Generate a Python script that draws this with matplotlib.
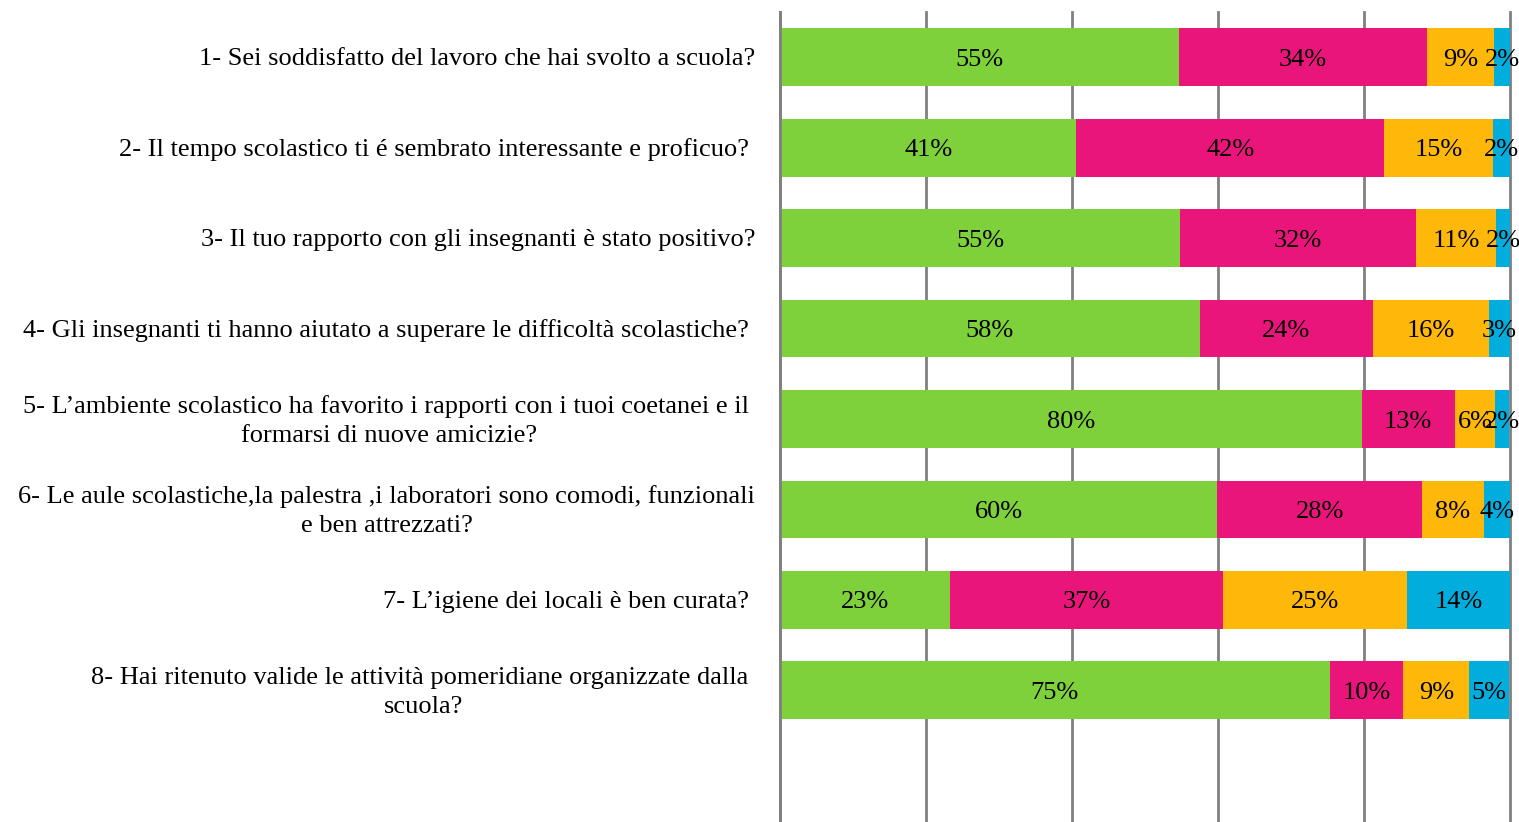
import numpy as np
import matplotlib.pyplot as plt

plt.rcParams['font.family'] = ['Liberation Serif', 'DejaVu Serif']

# domande del questionario (dall'alto verso il basso)
domande = [
    "1- Sei soddisfatto del lavoro che hai svolto a scuola?",
    "2- Il tempo scolastico ti é sembrato interessante e proficuo? ",
    "3- Il tuo rapporto con gli insegnanti è stato positivo?",
    "4- Gli insegnanti ti hanno aiutato a superare le difficoltà scolastiche? ",
    "5- L\u2019ambiente scolastico ha favorito i rapporti con i tuoi coetanei e il \nformarsi di nuove amicizie?",
    "6- Le aule scolastiche,la palestra ,i laboratori sono comodi, funzionali\ne ben attrezzati?",
    "7- L\u2019igiene dei locali è ben curata? ",
    "8- Hai ritenuto valide le attività pomeridiane organizzate dalla \nscuola?",
    "",
]

# percentuali per risposta
molto = [54.6, 40.6, 54.8, 57.5, 79.7, 59.9, 23.3, 75.3, 0]
abbastanza = [34.0, 42.2, 32.3, 23.7, 12.7, 28.1, 37.4, 10.1, 0]
poco = [9.2, 14.9, 11.0, 15.9, 5.6, 8.4, 25.2, 9.0, 0]
per_niente = [2.3, 2.3, 1.9, 2.9, 1.9, 3.7, 14.1, 5.4, 0]

serie = [molto, abbastanza, poco, per_niente]
colori = ["#7fd13b", "#ea157a", "#feb80a", "#00addc"]

fig = plt.figure(figsize=(15.19, 8.22), dpi=100)
ax = fig.add_axes([780 / 1519, -4 / 822, 730 / 1519, 814 / 822])

y = np.arange(len(domande))
sinistra = np.zeros(len(domande))
for valori, col in zip(serie, colori):
    valori = np.array(valori)
    ax.barh(y, valori, left=sinistra, height=0.64, color=col, zorder=2)
    for yi, (l, v) in enumerate(zip(sinistra, valori)):
        if v > 0:
            ax.text(l + v / 2, yi, f"{v:.0f}%", ha="center",
                    va="center_baseline", fontsize=19, zorder=3)
    sinistra += valori

ax.set_xlim(0, 100)
ax.set_ylim(len(domande) - 0.5, -0.5)
ax.set_xticks([0, 20, 40, 60, 80, 100])
ax.xaxis.grid(True, color="#808080", linewidth=2, zorder=1)
for g in ax.get_xgridlines():
    g.set_clip_on(False)
ax.tick_params(axis="both", length=0, labelbottom=False, labelleft=False)
for s in ["top", "right", "bottom"]:
    ax.spines[s].set_visible(False)
ax.spines["left"].set_color("#808080")
ax.spines["left"].set_linewidth(2)

for yi, testo in enumerate(domande):
    ax.text(-3.4, yi + 0.02, testo, ha="right", va="center",
            multialignment="center", fontsize=19, linespacing=1.4)

fig.savefig("out.png", dpi=100)
